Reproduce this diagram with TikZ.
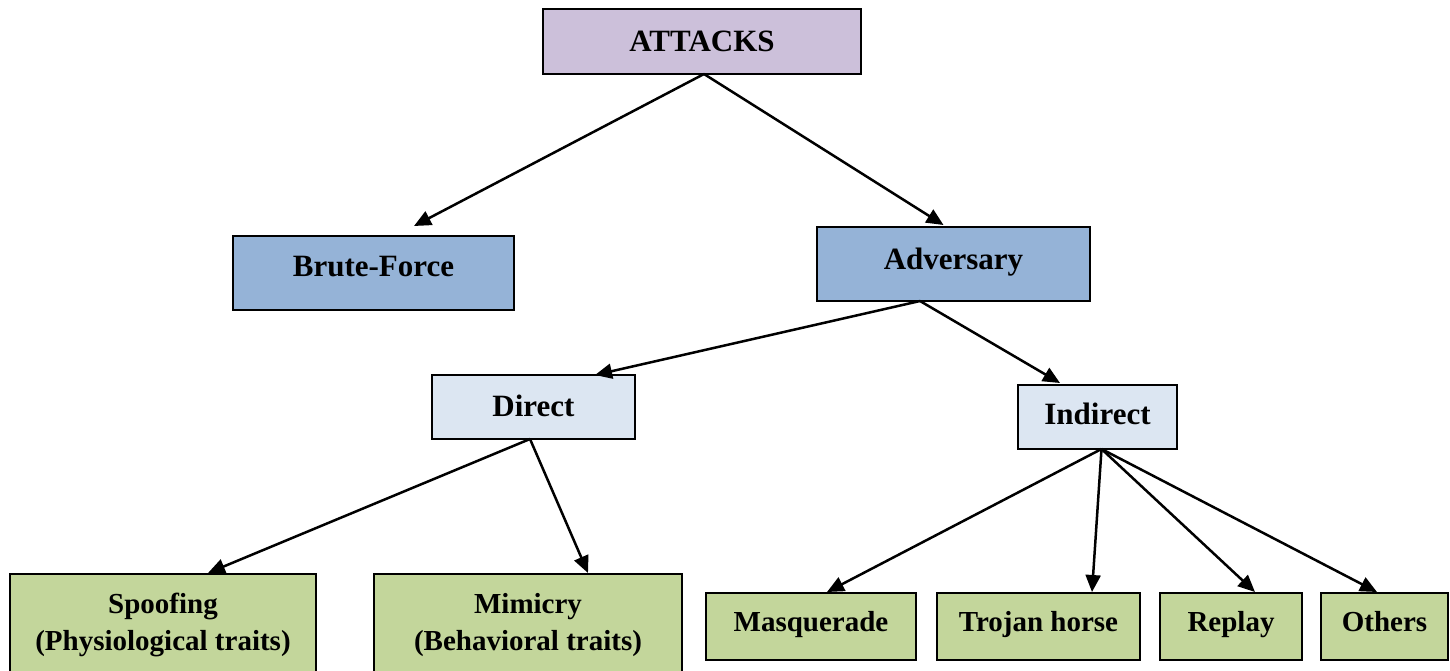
\documentclass[tikz,border=0pt]{standalone}
\usepackage{fontspec}
\setmainfont{Liberation Serif}
\usetikzlibrary{arrows.meta}

\definecolor{rootfill}{RGB}{204,192,218}
\definecolor{midfill}{RGB}{149,179,215}
\definecolor{lowfill}{RGB}{220,230,242}
\definecolor{leaffill}{RGB}{195,214,155}

\tikzset{
  box/.style={draw=black, line width=2pt, rectangle, outer sep=0pt, inner sep=2pt,
              text height=24pt},
  bigtext/.style={font=\fontsize{31}{36}\selectfont\bfseries},
  smalltext/.style={font=\fontsize{29}{36.5}\selectfont\bfseries},
  arr/.style={line width=2.5pt, -{Triangle[length=17pt,width=15pt]}},
}

\begin{document}
\begin{tikzpicture}[x=1pt, y=-1pt]
\useasboundingbox (0,0) rectangle (1450,670);
\clip (0,0) rectangle (1450,670);

% top level
\node[box, bigtext, fill=rootfill, minimum width=318pt, minimum height=65pt, text depth=4.4pt]
  (att) at (702,41.5) {ATTACKS};

% second level
\node[box, bigtext, fill=midfill, minimum width=281pt, minimum height=74pt, text depth=16.4pt]
  (bf) at (373.5,273) {Brute-Force};
\node[box, bigtext, fill=midfill, minimum width=273pt, minimum height=74pt, text depth=13.4pt]
  (adv) at (953.5,264) {Adversary};

% third level
\node[box, bigtext, fill=lowfill, minimum width=203pt, minimum height=64pt, text depth=5.4pt]
  (dir) at (533.5,407) {Direct};
\node[box, bigtext, fill=lowfill, minimum width=159pt, minimum height=64pt, text depth=8.4pt]
  (ind) at (1097.5,417) {Indirect};

% leaves under Direct
\node[draw=black, line width=2pt, outer sep=0pt, fill=leaffill, smalltext, align=center,
      minimum width=306pt, minimum height=102pt, anchor=north]
  (spoof) at (163,574) {Spoofing\\(Physiological traits)};
\node[draw=black, line width=2pt, outer sep=0pt, fill=leaffill, smalltext, align=center,
      minimum width=308pt, minimum height=102pt, anchor=north]
  (mim) at (528,574) {Mimicry\\(Behavioral traits)};

% leaves under Indirect
\node[box, smalltext, fill=leaffill, minimum width=210pt, minimum height=67pt, text depth=15pt]
  (masq) at (811,626.5) {Masquerade};
\node[box, smalltext, fill=leaffill, minimum width=203pt, minimum height=67pt, text depth=15pt]
  (troj) at (1038.5,626.5) {Trojan horse};
\node[box, smalltext, fill=leaffill, minimum width=142pt, minimum height=67pt, text depth=15pt]
  (rep) at (1231,626.5) {Replay};
\node[box, smalltext, fill=leaffill, minimum width=127pt, minimum height=67pt, text depth=15pt]
  (oth) at (1384.5,626.5) {Others};

% connectors
\draw[arr] ([xshift=2pt]att.south) -- ([xshift=40.5pt,yshift=10pt]bf.north);
\draw[arr] ([xshift=2pt]att.south) -- ([xshift=-10pt,yshift=2pt]adv.north);

\draw[arr] ([xshift=-33.5pt]adv.south) -- ([xshift=61.5pt]dir.north);
\draw[arr] ([xshift=-33.5pt]adv.south) -- ([xshift=-37.5pt,yshift=2pt]ind.north);

\draw[arr] ([xshift=-3.5pt]dir.south) -- ([xshift=45pt,yshift=1pt]spoof.north);
\draw[arr] ([xshift=-3.5pt]dir.south) -- ([xshift=60pt,yshift=1pt]mim.north);

\draw[arr] ([xshift=4pt]ind.south) -- ([xshift=16pt,yshift=1pt]masq.north);
\draw[arr] ([xshift=4pt]ind.south) -- ([xshift=53.5pt,yshift=1pt]troj.north);
\draw[arr] ([xshift=4pt]ind.south) -- ([xshift=24pt,yshift=1pt]rep.north);
\draw[arr] ([xshift=4pt]ind.south) -- ([xshift=-7.5pt,yshift=1pt]oth.north);
\end{tikzpicture}
\end{document}
